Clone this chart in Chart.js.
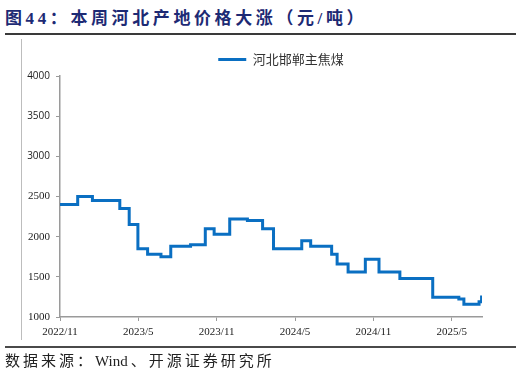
<!DOCTYPE html>
<html>
<head>
<meta charset="utf-8">
<script src="https://cdn.jsdelivr.net/npm/chart.js@4/dist/chart.umd.min.js"></script>
<style>
    html, body { margin: 0; padding: 0; background: #fff; }
    body { width: 522px; height: 377px; position: relative; overflow: hidden; }
    #title {
        position: absolute; left: 5px; top: 4px;
        font-family: "Liberation Serif", "Noto Sans CJK SC", sans-serif;
        font-weight: bold; font-size: 17px; letter-spacing: 3.6px;
        color: #1d2a74; white-space: nowrap;
    }
    #topLine { position: absolute; left: 5px; top: 33px; width: 511px; height: 2px; background: #3a3a3a; }
    #leftLine { position: absolute; left: 21px; top: 39px; width: 1px; height: 301px; background: #bdbdbd; }
    #bottomLine { position: absolute; left: 5px; top: 346px; width: 511px; height: 2px; background: #4a4a4a; }
    #source {
        position: absolute; left: 5px; top: 349px;
        font-family: "Liberation Serif", "Noto Sans CJK SC", serif;
        font-size: 15px; letter-spacing: 3px; color: #222; white-space: nowrap;
    }
    #source span { letter-spacing: 0; margin-right: 3px; }
    #chartBox { position: absolute; left: 0; top: 0; width: 522px; height: 377px; }
</style>
</head>
<body>
<div id="title">图44：本周河北产地价格大涨（元/吨）</div>
<div id="topLine"></div>
<div id="leftLine"></div>
<div id="bottomLine"></div>
<div id="chartBox"><canvas id="chart1" width="522" height="377"></canvas></div>
<div id="source">数据来源：<span>Wind</span>、开源证券研究所</div>

<script>
    // 数据：价格变动日期 + 当期价格（元/吨）
    const seriesName = "河北邯郸主焦煤";
    const stepDates = [
        "2022-11-01", "2022-12-12", "2023-01-16", "2023-03-19", "2023-04-10", "2023-04-30",
        "2023-05-23", "2023-06-23", "2023-07-16", "2023-09-01", "2023-10-05", "2023-10-26",
        "2023-12-01", "2024-01-12", "2024-02-16", "2024-03-12", "2024-05-17", "2024-06-07",
        "2024-07-26", "2024-08-08", "2024-09-03", "2024-10-13", "2024-11-14", "2025-01-02",
        "2025-03-18", "2025-05-18", "2025-05-30", "2025-07-04", "2025-07-10", "2025-07-11"
    ];
    const stepValues = [
        2400, 2500, 2450, 2350, 2150, 1850,
        1780, 1750, 1880, 1900, 2100, 2030,
        2220, 2200, 2100, 1850, 1950, 1880,
        1780, 1660, 1560, 1720, 1560, 1480,
        1245, 1225, 1160, 1190, 1250, 1250
    ];
    const xTickLabels = ["2022/11", "2023/5", "2023/11", "2024/5", "2024/11", "2025/5"];
    const yTicks = [1000, 1500, 2000, 2500, 3000, 3500, 4000];

    // 2022/11 起算的月份数
    function toMonthOffset(sDate) {
        const [y, m, d] = sDate.split("-").map(Number);
        const iDays = new Date(y, m, 0).getDate();
        return (y - 2022) * 12 + (m - 11) + (d - 1) / iDays;
    }

    const aPoints = stepDates.map((s, i) => ({ x: toMonthOffset(s), y: stepValues[i] }));
    const axisColor = "#9a9a9a";

    // 图例整体右移一点，与原图对齐
    const legendShift = {
        id: "legendShift",
        afterLayout: function (chart) {
            chart.legend.left += 10;
            chart.legend.right += 10;
        }
    };

    new Chart(document.getElementById("chart1").getContext("2d"), {
        type: "line",
        plugins: [legendShift],
        data: {
            datasets: [{
                label: seriesName,
                data: aPoints,
                borderColor: "#0a6fc2",
                backgroundColor: "#0a6fc2",
                borderWidth: 3,
                stepped: true,
                pointRadius: 0,
                fill: false
            }]
        },
        options: {
            responsive: false,
            animation: false,
            layout: { padding: { left: 20, right: 40, top: 42, bottom: 38 } },
            plugins: {
                tooltip: { enabled: false },
                legend: {
                    display: true,
                    position: "top",
                    fullSize: false,
                    labels: {
                        usePointStyle: true,
                        pointStyle: "line",
                        pointStyleWidth: 28,
                        padding: 11,
                        color: "#333",
                        font: { family: "'Noto Sans CJK SC'", size: 13 }
                    }
                }
            },
            scales: {
                x: {
                    type: "linear",
                    min: 0,
                    max: aPoints[aPoints.length - 1].x,
                    afterBuildTicks: scale => {
                        scale.ticks = xTickLabels.map((_, i) => ({ value: i * 6 }));
                    },
                    afterFit: scale => { scale.height = 22; },
                    ticks: {
                        autoSkip: false,
                        maxRotation: 0,
                        padding: 5,
                        color: "#222",
                        font: { family: "'Liberation Serif'", size: 11 },
                        callback: v => xTickLabels[Math.round(v / 6)]
                    },
                    grid: { drawOnChartArea: false, drawTicks: true, tickLength: 4, color: axisColor },
                    border: { color: axisColor, width: 1.5 }
                },
                y: {
                    min: 1000,
                    max: 4000,
                    afterBuildTicks: scale => {
                        scale.ticks = yTicks.map(v => ({ value: v }));
                    },
                    afterFit: scale => { scale.width = 40; },
                    ticks: {
                        padding: 6,
                        color: "#222",
                        callback: v => String(v),
                        font: ctx => ({
                            family: ctx.tick && ctx.tick.value >= 3000 ? "'Open Sans'" : "'Liberation Serif'",
                            size: ctx.tick && ctx.tick.value >= 3000 ? 10 : 11
                        })
                    },
                    grid: { drawOnChartArea: false, drawTicks: true, tickLength: 4, color: axisColor },
                    border: { color: axisColor, width: 1.5 }
                }
            }
        }
    });
</script>
</body>
</html>
